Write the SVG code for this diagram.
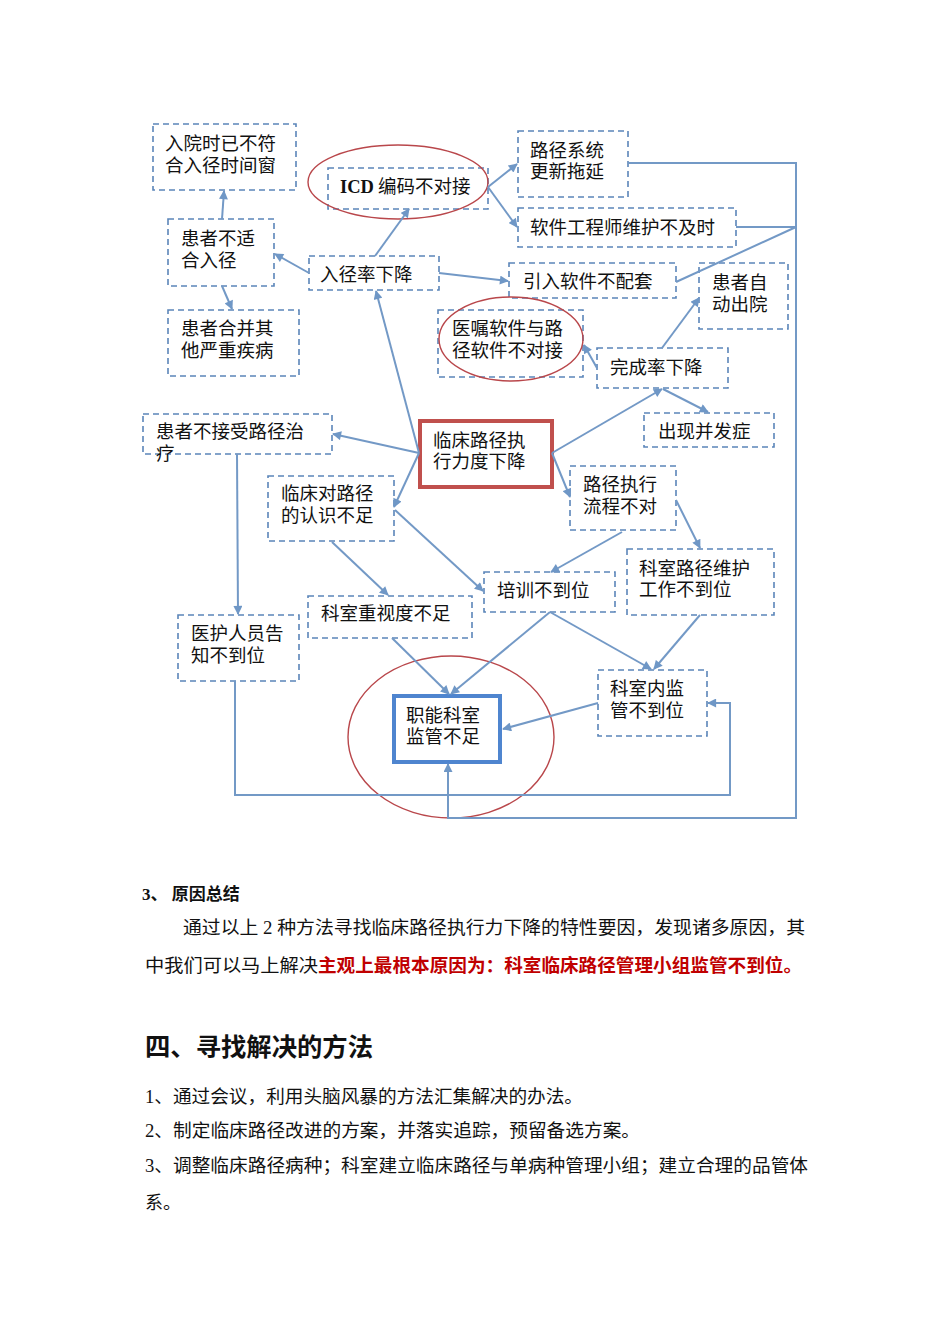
<svg xmlns="http://www.w3.org/2000/svg" width="950" height="1344" viewBox="0 0 950 1344">
<defs>
<marker id="ah" viewBox="0 0 10 10" refX="9" refY="5" markerWidth="10" markerHeight="9" markerUnits="userSpaceOnUse" orient="auto">
<path d="M0,0 L10,5 L0,10 z" fill="#6f97c6"/>
</marker>
</defs>
<style>
.bx{fill:#fff;stroke:#5b85b9;stroke-width:1.6;stroke-dasharray:6,4}
.t{font-family:"Noto Sans CJK SC","Liberation Sans",sans-serif;font-size:18.5px;fill:#111}
.c{fill:none;stroke:#7399c6;stroke-width:2}
.ca{fill:none;stroke:#7399c6;stroke-width:2;marker-end:url(#ah)}
.ov{fill:none;stroke:#b9474b;stroke-width:1.4}
.p{font-family:"Liberation Serif","Noto Sans CJK SC",serif;font-size:18px;fill:#111}
</style>
<rect width="950" height="1344" fill="#fff"/>

<g id="n1"><rect class="bx" x="153" y="124" width="143" height="66"/><text class="t" x="165" y="150">入院时已不符<tspan x="165" dy="22">合入径时间窗</tspan></text></g>
<g id="n2"><rect class="bx" x="328" y="168" width="160" height="41"/><text class="t" x="340" y="193"><tspan font-family="Liberation Serif,serif" font-weight="bold">ICD</tspan> 编码不对接</text></g>
<g id="n3"><rect class="bx" x="518" y="131" width="110" height="66"/><text class="t" x="530" y="157">路径系统<tspan x="530" dy="21">更新拖延</tspan></text></g>
<g id="n4"><rect class="bx" x="518" y="208" width="218" height="39"/><text class="t" x="530" y="234">软件工程师维护不及时</text></g>
<g id="n5"><rect class="bx" x="168" y="219" width="106" height="67"/><text class="t" x="181" y="245">患者不适<tspan x="181" dy="22">合入径</tspan></text></g>
<g id="n6"><rect class="bx" x="309" y="256" width="130" height="34"/><text class="t" x="320" y="281">入径率下降</text></g>
<g id="n7"><rect class="bx" x="168" y="310" width="131" height="66"/><text class="t" x="181" y="335">患者合并其<tspan x="181" dy="22">他严重疾病</tspan></text></g>
<g id="n8"><rect class="bx" x="509" y="263" width="167" height="35"/><text class="t" x="523" y="288">引入软件不配套</text></g>
<g id="n9"><rect class="bx" x="699" y="263" width="89" height="66"/><text class="t" x="712" y="289">患者自<tspan x="712" dy="22">动出院</tspan></text></g>
<g id="n10"><rect class="bx" x="438" y="310" width="145" height="67"/><text class="t" x="452" y="335">医嘱软件与路<tspan x="452" dy="22">径软件不对接</tspan></text></g>
<g id="n11"><rect class="bx" x="597" y="348" width="131" height="40"/><text class="t" x="610" y="374">完成率下降</text></g>
<g id="n12"><rect class="bx" x="143" y="414" width="189" height="40"/><text class="t" x="156" y="438">患者不接受路径治<tspan x="156" dy="22">疗</tspan></text></g>
<g id="n13"><rect x="420" y="421" width="132" height="66" fill="#fff" stroke="#c0504d" stroke-width="4"/><text class="t" x="433" y="447">临床路径执<tspan x="433" dy="21">行力度下降</tspan></text></g>
<g id="n14"><rect class="bx" x="644" y="413" width="130" height="34"/><text class="t" x="658" y="438">出现并发症</text></g>
<g id="n15"><rect class="bx" x="268" y="476" width="126" height="65"/><text class="t" x="281" y="500">临床对路径<tspan x="281" dy="22">的认识不足</tspan></text></g>
<g id="n16"><rect class="bx" x="570" y="466" width="106" height="64"/><text class="t" x="583" y="491">路径执行<tspan x="583" dy="22">流程不对</tspan></text></g>
<g id="n17"><rect class="bx" x="627" y="549" width="147" height="66"/><text class="t" x="639" y="575">科室路径维护<tspan x="639" dy="21">工作不到位</tspan></text></g>
<g id="n18"><rect class="bx" x="484" y="572" width="131" height="40"/><text class="t" x="497" y="597">培训不到位</text></g>
<g id="n19"><rect class="bx" x="308" y="596" width="164" height="42"/><text class="t" x="321" y="620">科室重视度不足</text></g>
<g id="n20"><rect class="bx" x="178" y="615" width="121" height="66"/><text class="t" x="191" y="640">医护人员告<tspan x="191" dy="22">知不到位</tspan></text></g>
<g id="n21"><rect x="394" y="696" width="106" height="66" fill="#fff" stroke="#4f85cf" stroke-width="4"/><text class="t" x="406" y="722">职能科室<tspan x="406" dy="21">监管不足</tspan></text></g>
<g id="n22"><rect class="bx" x="598" y="670" width="109" height="66"/><text class="t" x="610" y="695">科室内监<tspan x="610" dy="22">管不到位</tspan></text></g>

<g id="highlights">
<ellipse class="ov" cx="398" cy="182" rx="90" ry="37"/>
<ellipse class="ov" cx="511" cy="339" rx="72" ry="42"/>
<ellipse class="ov" cx="451" cy="737" rx="103" ry="81"/>
</g>

<g id="connectors">
<path class="ca" d="M222,219 L224,191"/>
<path class="ca" d="M222,286 L232,309"/>
<path class="ca" d="M309,273 L275,254"/>
<path class="ca" d="M375,256 L409,209"/>
<path class="ca" d="M439,273 L508,281"/>
<path class="ca" d="M488,187 L517,164"/>
<path class="ca" d="M488,187 L517,227"/>
<path class="ca" d="M419,453 L376,291"/>
<path class="ca" d="M597,368 L584,345"/>
<path class="ca" d="M662,348 L699,298"/>
<path class="ca" d="M552,453 L662,389"/>
<path class="ca" d="M663,389 L708,412"/>
<path class="ca" d="M419,453 L333,434"/>
<path class="ca" d="M419,453 L394,507"/>
<path class="ca" d="M552,453 L570,497"/>
<path class="ca" d="M237,454 L238,614"/>
<path class="ca" d="M332,542 L388,595"/>
<path class="ca" d="M395,510 L483,591"/>
<path class="ca" d="M622,532 L551,572"/>
<path class="ca" d="M676,500 L700,548"/>
<path class="ca" d="M550,612 L451,694"/>
<path class="ca" d="M550,612 L651,669"/>
<path class="ca" d="M700,615 L654,669"/>
<path class="ca" d="M392,638 L449,694"/>
<path class="ca" d="M598,703 L503,729"/>
<path class="ca" d="M235,681 L235,795 L730,795 L730,703 L708,703"/>
<path class="ca" d="M628,163 L796,163 L796,818 L448,818 L448,764"/>
<path class="c" d="M736,227 L796,227"/>
<path class="c" d="M676,282 L796,227"/>
</g>

<g id="body">
<text class="p" x="142" y="900" style="font-size:17px;font-weight:bold">3、 原因总结</text>
<text class="p" x="183" y="934" textLength="622" lengthAdjust="spacingAndGlyphs">通过以上 2 种方法寻找临床路径执行力下降的特性要因，发现诸多原因，其</text>
<text class="p" x="145" y="972"><tspan textLength="173" lengthAdjust="spacingAndGlyphs">中我们可以马上解决</tspan><tspan fill="#c00000" font-weight="bold" textLength="484" lengthAdjust="spacingAndGlyphs">主观上最根本原因为：科室临床路径管理小组监管不到位。</tspan></text>
<text class="p" x="145" y="1056" style="font-size:25px;font-weight:bold" textLength="228" lengthAdjust="spacingAndGlyphs">四、寻找解决的方法</text>
<text class="p" x="145" y="1103" textLength="438" lengthAdjust="spacingAndGlyphs">1、通过会议，利用头脑风暴的方法汇集解决的办法。</text>
<text class="p" x="145" y="1137" textLength="495" lengthAdjust="spacingAndGlyphs">2、制定临床路径改进的方案，并落实追踪，预留备选方案。</text>
<text class="p" x="145" y="1172" textLength="663" lengthAdjust="spacingAndGlyphs">3、调整临床路径病种；科室建立临床路径与单病种管理小组；建立合理的品管体</text>
<text class="p" x="145" y="1209">系。</text>
</g>
</svg>
